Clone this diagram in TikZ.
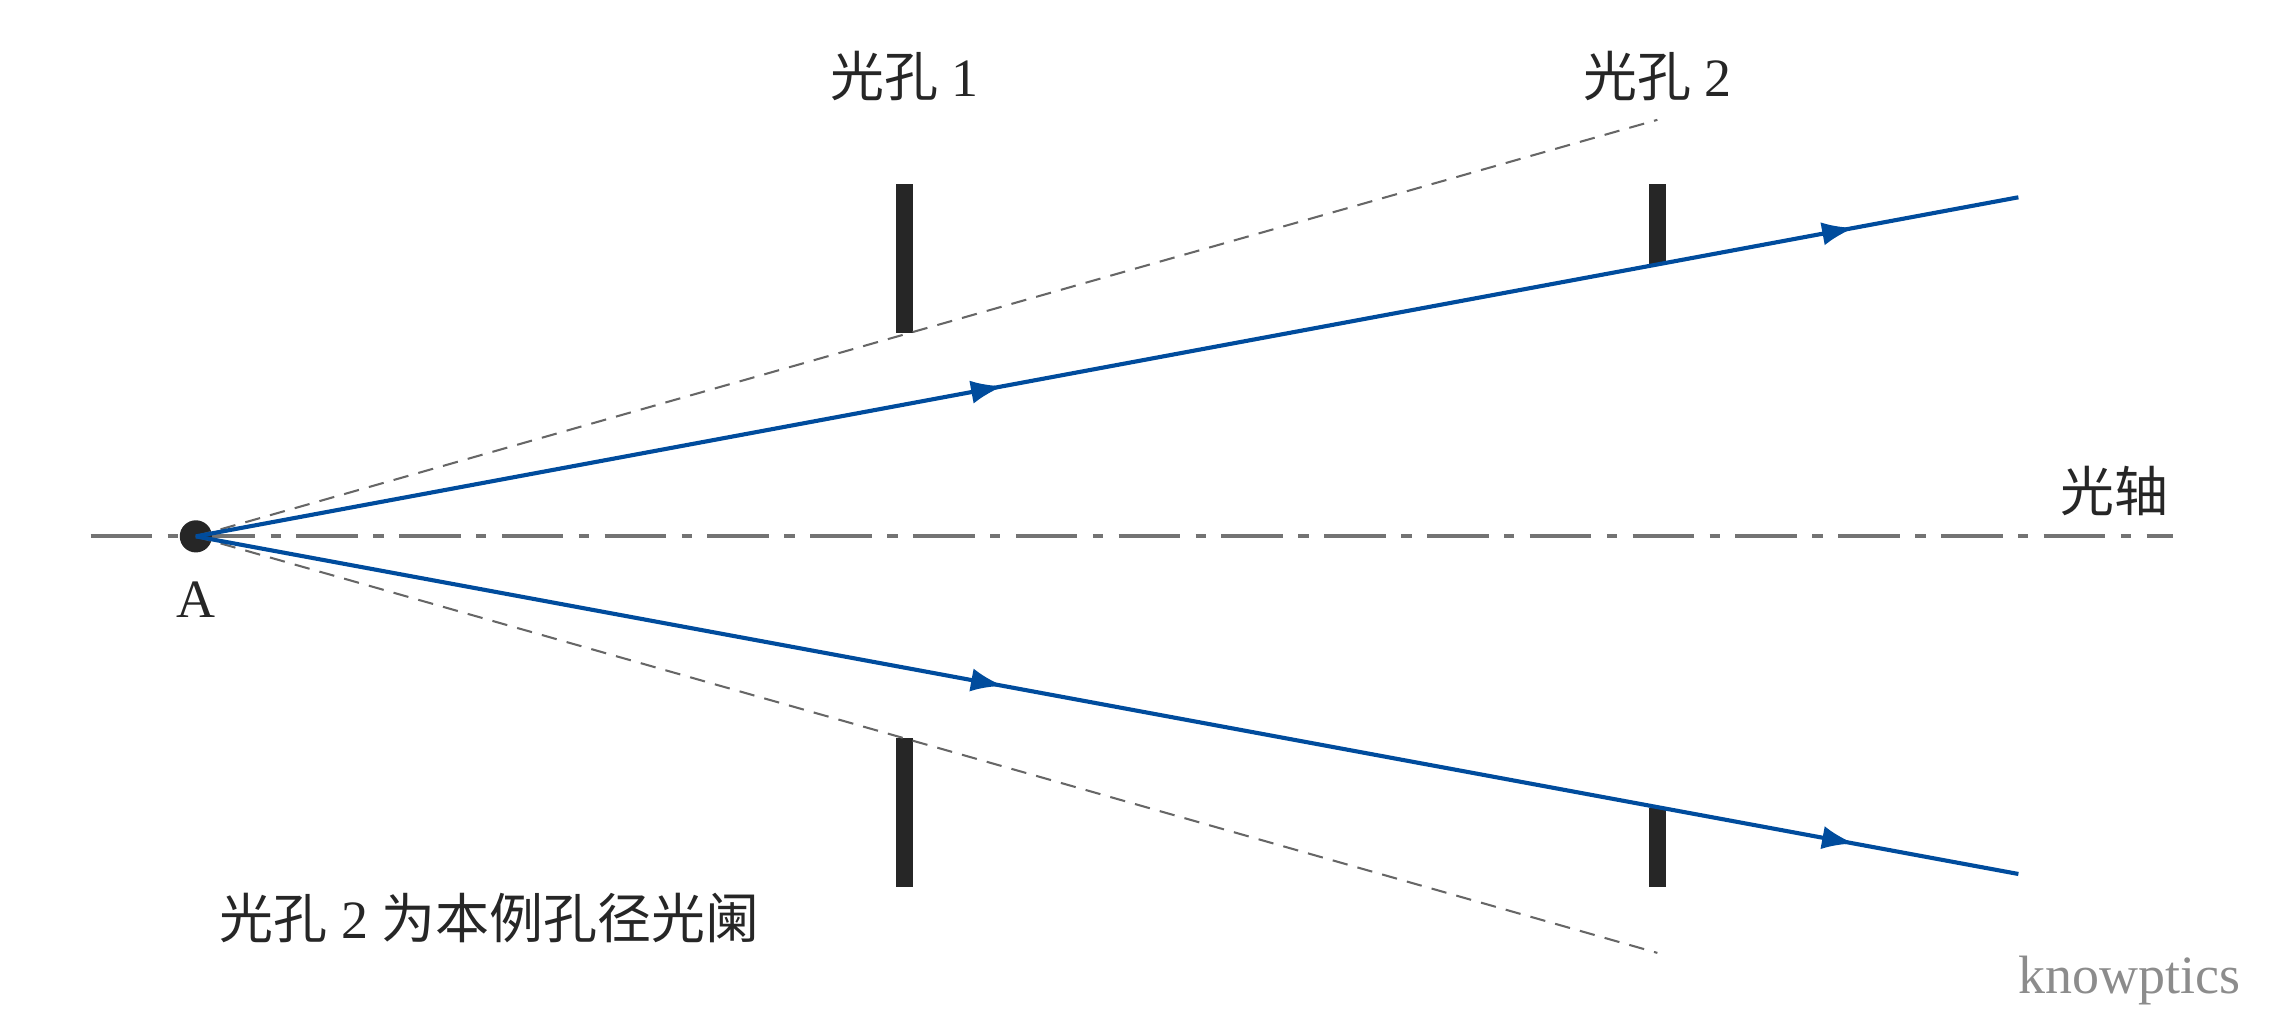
\documentclass[tikz,border=0pt]{standalone}
\usepackage{fontspec}
\setmainfont{Liberation Serif}
\newfontfamily\cjk{Noto Sans CJK SC}
\usetikzlibrary{arrows.meta,decorations.markings}
\tikzset{
  ray/.style={
    % The line:
    thick,
    draw=blue!45!black!70!cyan,
    % The arrow marks:
    postaction={decorate},
    decoration={markings,
      mark=at position #1 with {\arrow{Latex[length=2.2mm,width=1.6mm]}},
      mark=at position 0.91 with {\arrow{Latex[length=2.2mm,width=1.6mm]}}}
  },
  edge ray/.style={
    % The line:
    densely dashed,
    draw=black!60},
  stop/.style={
    % The plate:
    line width=1.2mm,
    draw=black!85},
  label/.style={
    % The text:
    font=\fontsize{10.5}{12}\selectfont,
    text=black!85,
    inner sep=1pt}
}
\begin{document}
\begin{tikzpicture}[x=0.01cm,y=-0.01cm,
                    axis/.style={draw=black!55,thick,dash pattern=on 12pt off 3pt on 2pt off 3pt}]
  \useasboundingbox (0,0) rectangle (1560,698);

  % Optical axis and object point
  \coordinate (axl) at (62,367);
  \coordinate (axr) at (1487,367);
  \draw[axis] (axl) -- (axr);
  \node (A) [circle,fill=black!85,inner sep=0pt,minimum size=2.2mm] at (134,367) {};

  % Apertures
  \coordinate (s1a) at (619,126); \coordinate (s1b) at (619,228);
  \coordinate (s1c) at (619,505); \coordinate (s1d) at (619,607);
  \coordinate (s2a) at (1134,126); \coordinate (s2b) at (1134,181);
  \coordinate (s2c) at (1134,553); \coordinate (s2d) at (1134,607);
  \draw[stop] (s1a) -- (s1b);
  \draw[stop] (s1c) -- (s1d);
  \draw[stop] (s2a) -- (s2b);
  \draw[stop] (s2c) -- (s2d);

  % Marginal rays
  \coordinate (d1) at (1134,82);
  \coordinate (d2) at (1134,652);
  \draw[edge ray] (A.center) -- (d1);
  \draw[edge ray] (A.center) -- (d2);

  \coordinate (r1) at (1381,135);
  \coordinate (r2) at (1381,598);
  \draw[ray=0.443] (A.center) -- (r1);
  \draw[ray=0.443] (A.center) -- (r2);

  % Labels
  \node (l1) [label] at (619,52) {{\cjk 光孔} 1};
  \node (l2) [label] at (1134,52) {{\cjk 光孔} 2};
  \node (la) [label] at (1447,336) {\cjk 光轴};
  \node (lA) [label] at (134,410) {A};
  \node (lnote) [label] at (335,628) {{\cjk 光孔} 2 {\cjk 为本例孔径光阑}};
  \node (logo) [label,text=black!45] at (1457,671) {knowptics};
\end{tikzpicture}
\end{document}
